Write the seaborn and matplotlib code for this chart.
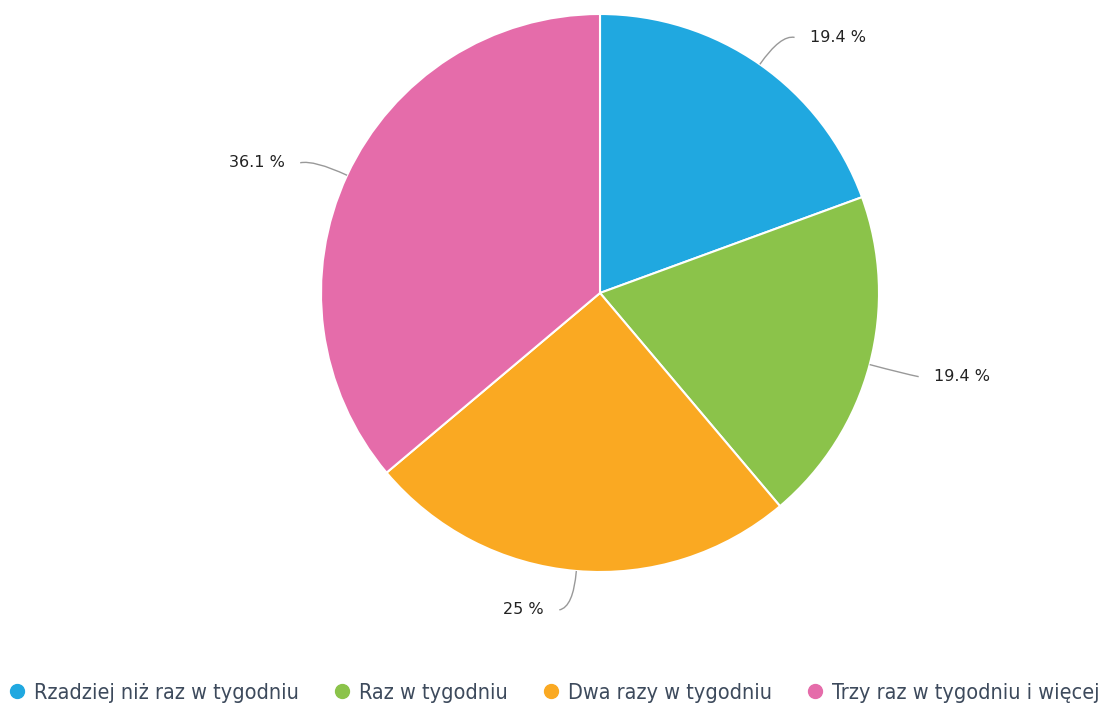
import numpy as np
import matplotlib
matplotlib.use("Agg")
import matplotlib.pyplot as plt
from matplotlib.path import Path
from matplotlib.patches import PathPatch
from matplotlib.lines import Line2D
import seaborn as sns

categories = [
    "Rzadziej niż raz w tygodniu",
    "Raz w tygodniu",
    "Dwa razy w tygodniu",
    "Trzy raz w tygodniu i więcej",
]
shares = [19.4, 19.4, 25.0, 36.1]
value_labels = ["19.4 %", "19.4 %", "25 %", "36.1 %"]
colors = ["#20a8e0", "#8bc34a", "#faa922", "#e56caa"]

sns.set_theme(style="white")
plt.rcParams["font.family"] = ["DejaVu Sans"]

fig = plt.figure(figsize=(11.08, 7.08), dpi=100)
ax = fig.add_axes([321 / 1108, (708 - 572) / 708, 558 / 1108, 558 / 708])

wedges, _ = ax.pie(
    shares,
    colors=colors,
    startangle=90,
    counterclock=False,
    radius=1.0,
    wedgeprops=dict(edgecolor="white", linewidth=1.5),
)
ax.set_xlim(-1, 1)
ax.set_ylim(-1, 1)
ax.set_aspect("equal")
ax.axis("off")

# leader lines and value labels
for w, lab in zip(wedges, value_labels):
    ang = np.deg2rad((w.theta1 + w.theta2) / 2)
    c, s = np.cos(ang), np.sin(ang)
    p0 = (c * 1.0, s * 1.0)
    p1 = (c * 1.13, s * 1.13)
    side = 1 if c >= 0 else -1
    p2 = (p1[0] + side * 0.05, p1[1] - 0.01)
    path = Path([p0, p1, p2], [Path.MOVETO, Path.CURVE3, Path.CURVE3])
    ax.add_patch(PathPatch(path, facecolor="none", edgecolor="#999999",
                           linewidth=1.0, clip_on=False))
    ax.text(p2[0] + side * 0.055, p2[1], lab,
            ha="left" if side > 0 else "right", va="center",
            fontsize=11.5, color="#222222", clip_on=False)

handles = [
    Line2D([0], [0], marker="o", linestyle="none", markersize=10,
           markerfacecolor=col, markeredgecolor=col)
    for col in colors
]
leg = fig.legend(
    handles, categories, loc="center", bbox_to_anchor=(0.5, (708 - 693) / 708),
    ncol=4, frameon=False, handletextpad=0.4, columnspacing=1.6,
    handlelength=0.8,
    prop=dict(family="DejaVu Sans", stretch="condensed", size=15.5),
)
for t in leg.get_texts():
    t.set_color("#3d4a5c")

fig.savefig("out.png", dpi=100, facecolor="white")
